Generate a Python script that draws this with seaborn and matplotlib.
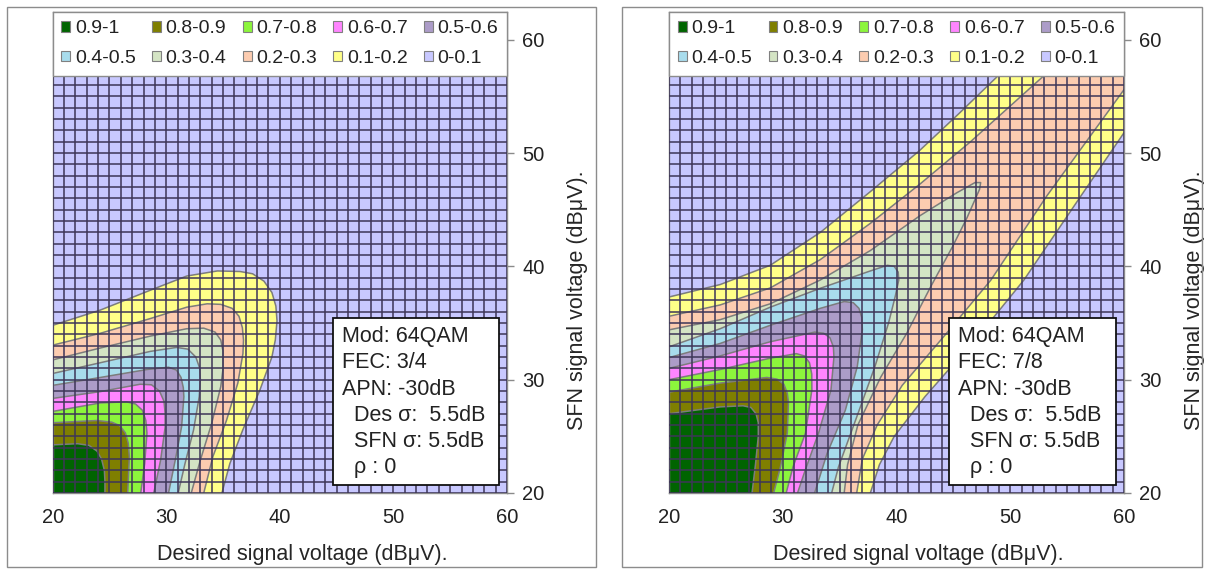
import numpy as np
import matplotlib
matplotlib.use("Agg")
import matplotlib.pyplot as plt
from matplotlib.patches import Patch, Rectangle
import seaborn as sns

# Probability bands (legend order) and their fill colours
band_labels = ["0.9-1", "0.8-0.9", "0.7-0.8", "0.6-0.7", "0.5-0.6",
               "0.4-0.5", "0.3-0.4", "0.2-0.3", "0.1-0.2", "0-0.1"]
band_colors = ["#006400", "#7F7F00", "#8CF53C", "#FF85FF", "#AC9CC8",
               "#A8DCEC", "#D4E4C4", "#FCCCB0", "#FFFF88", "#C8C8FF"]

# Contour levels 0.1 ... 0.9 (probability of reception)
levels = [0.1, 0.2, 0.3, 0.4, 0.5, 0.6, 0.7, 0.8, 0.9]

# ---- 64QAM, FEC 3/4: contour lines (desired dBuV, SFN dBuV), lower-left side is >= level
fec34_c10 = [(20, 34.8), (24.2, 36.15), (28.6, 37.9), (31.8, 39.15), (34.5, 39.6), (36.5, 39.55),
             (37.6, 39.35), (38.6, 38.7), (39.3, 37.7), (39.65, 36.5), (39.75, 35.2), (39.6, 33.5),
             (39.3, 32.0), (38.25, 29.1), (36.75, 25.6), (35.6, 22.6), (34.9, 20)]
fec34_c20 = [(20, 33.05), (24.2, 34.1), (28.6, 35.4), (31.8, 36.4), (33.6, 36.7), (34.8, 36.65),
             (35.8, 36.3), (36.4, 35.6), (36.7, 34.6), (36.8, 33.5), (36.75, 32.3), (36.3, 29.7),
             (35.3, 26.4), (34.1, 23.2), (33.3, 20)]
fec34_c30 = [(20, 31.75), (24.2, 32.8), (28.6, 33.85), (31.8, 34.5), (33.3, 34.55), (34.3, 34.2),
             (34.8, 33.5), (35.0, 32.5), (35.0, 31.0), (34.8, 29.4), (34.0, 26.15), (33.0, 22.9),
             (32.2, 20)]
fec34_c40 = [(20, 30.55), (24.2, 31.5), (28.6, 32.5), (30.9, 32.85), (31.9, 32.7), (32.6, 32.0),
             (32.95, 31.0), (33.0, 30.0), (32.9, 28.5), (32.4, 25.55), (31.65, 22.6), (31.05, 20)]
fec34_c50 = [(20, 29.5), (24.2, 30.2), (28.3, 30.9), (30.2, 31.1), (30.9, 30.85), (31.3, 30.2),
             (31.5, 29.3), (31.55, 28.5), (31.35, 25.85), (30.85, 23.2), (30.2, 20)]
fec34_c60 = [(20, 28.35), (24.2, 28.95), (27.7, 29.6), (28.7, 29.55), (29.4, 29.0), (29.8, 28.1),
             (29.9, 27.0), (29.9, 25.8), (29.5, 22.9), (28.9, 20)]
fec34_c70 = [(20, 27.2), (24.2, 27.95), (26.5, 28.05), (27.3, 27.85), (27.9, 27.3), (28.2, 26.4),
             (28.3, 25.3), (28.1, 22.6), (27.75, 20)]
fec34_c80 = [(20, 26.2), (23.9, 26.4), (25.2, 26.25), (25.9, 25.95), (26.4, 25.3), (26.65, 24.4),
             (26.75, 23.2), (26.6, 20)]
fec34_c90 = [(20, 24.25), (22.2, 24.35), (23.2, 24.2), (23.9, 23.7), (24.3, 23.0), (24.55, 22.0),
             (24.6, 21.0), (24.6, 20)]

# ---- 64QAM, FEC 7/8
fec78_c10 = [(20, 37.3), (24.5, 38.4), (28.9, 40.1), (33.3, 43.0), (37.7, 46.6), (42.0, 50.2),
             (45.5, 53.5), (48.9, 56.8), (55, 62.5), (57, 64.5), (75, 75), (64, 57.6),
             (60, 51.8), (56.2, 46.2), (51.2, 38.8), (47.4, 34.1), (42.5, 28.5), (39.8, 25.0),
             (38.5, 22.5), (37.7, 20)]
fec78_c20 = [(20, 35.6), (24.5, 36.6), (28.9, 38.1), (33.3, 40.6), (37.7, 43.8), (42.1, 47.3),
             (46.5, 51.0), (52.7, 56.6), (58, 61.5), (61, 64), (75, 75), (64, 61.1),
             (60, 55.6), (53.2, 46.2), (48.3, 38.8), (44.4, 34.1), (40.5, 29.5), (38.3, 26.0),
             (37.0, 23.0), (36.5, 20)]
fec78_c30 = [(20, 34.4), (24.5, 35.3), (28.9, 36.7), (33.3, 38.8), (37.7, 41.4), (42.1, 44.5),
             (45.3, 46.5), (46.9, 47.4), (47.4, 47.4), (47.3, 46.8), (46.2, 44.3), (44.9, 41.7),
             (43.0, 38.2), (40.9, 34.1), (38.6, 30.2), (36.6, 26.0), (35.7, 22.5), (35.4, 20)]
fec78_c40 = [(20, 32.9), (24.5, 34.5), (28.9, 36.4), (33.3, 38.07), (37.7, 39.6), (39.2, 40.1),
             (39.8, 40.0), (40.15, 39.5), (40.2, 38.8), (39.9, 37.4), (39.3, 35.0), (38.1, 31.15),
             (36.5, 26.7), (34.9, 22.3), (34.3, 20)]
fec78_c50 = [(20, 31.95), (24.5, 33.2), (28.9, 34.8), (33.3, 36.3), (35.4, 36.9), (36.2, 36.8),
             (36.7, 36.3), (36.95, 35.5), (37.0, 34.4), (36.55, 31.15), (35.5, 27.3), (33.9, 23.5),
             (32.8, 20)]
fec78_c60 = [(20, 31.0), (24.5, 32.1), (28.9, 33.35), (32.8, 34.2), (33.6, 34.1), (34.15, 33.7),
             (34.45, 32.9), (34.5, 32.0), (34.24, 29.1), (33.15, 25.3), (31.97, 22.0), (31.3, 20)]
fec78_c70 = [(20, 30.0), (24.5, 30.9), (28.9, 31.9), (31.2, 32.3), (31.9, 32.1), (32.35, 31.5),
             (32.55, 30.5), (32.56, 29.1), (32.0, 25.3), (30.9, 22.3), (30.3, 20)]
fec78_c80 = [(20, 28.9), (24.5, 29.7), (28.6, 30.2), (29.5, 30.05), (30.1, 29.6), (30.4, 28.8),
             (30.5, 28.0), (30.4, 25.3), (29.8, 22.3), (29.2, 20)]
fec78_c90 = [(20, 27.0), (24.5, 27.6), (26.5, 27.7), (27.2, 27.55), (27.65, 27.0), (27.85, 26.2),
             (27.85, 25.0), (27.6, 22.5), (27.3, 20)]

fec34_contours = [fec34_c10, fec34_c20, fec34_c30, fec34_c40, fec34_c50,
                  fec34_c60, fec34_c70, fec34_c80, fec34_c90]
fec78_contours = [fec78_c10, fec78_c20, fec78_c30, fec78_c40, fec78_c50,
                  fec78_c60, fec78_c70, fec78_c80, fec78_c90]

fec34_info = ["Mod: 64QAM", "FEC: 3/4", "APN: -30dB",
              "  Des \u03c3:  5.5dB", "  SFN \u03c3: 5.5dB", "  \u03c1 : 0"]
fec78_info = ["Mod: 64QAM", "FEC: 7/8", "APN: -30dB",
              "  Des \u03c3:  5.5dB", "  SFN \u03c3: 5.5dB", "  \u03c1 : 0"]

x_ticks = [20, 30, 40, 50, 60]
y_ticks = [20, 30, 40, 50, 60]
x_label = "Desired signal voltage (dB\u03bcV)."
y_label = "SFN signal voltage (dB\u03bcV)."

sns.set_theme(style="white")
plt.rcParams["font.family"] = ["Liberation Sans", "DejaVu Sans"]
plt.rcParams["text.color"] = "#222222"

W, H = 1206, 573
fig = plt.figure(figsize=(W / 100, H / 100), dpi=100)

GRID_C = "#3e3658"
LINE_C = "#7c7c7c"
AX_C = "#8a8a8a"


def draw_panel(ax, contours, info):
    ax.set_facecolor(band_colors[-1])
    for lev, pts in zip(levels, contours):
        color = band_colors[9 - int(round(lev * 10))]
        xs = [p[0] for p in pts]
        ys = [p[1] for p in pts]
        ax.fill(xs + [20], ys + [20], facecolor=color, edgecolor="none", zorder=1)
        sns.lineplot(x=xs, y=ys, sort=False, estimator=None, color=LINE_C,
                     lw=1.1, ax=ax, zorder=2, legend=False)

    ax.set_xlim(20, 60)
    ax.set_ylim(20, 62.5)
    ax.set_xticks(x_ticks)
    ax.set_yticks(y_ticks)
    ax.set_xticks(np.arange(20, 61, 1), minor=True)
    ax.set_yticks(np.arange(20, 63, 1), minor=True)
    ax.set_axisbelow(False)
    ax.grid(which="both", color=GRID_C, lw=1.3, alpha=0.85)
    ax.tick_params(which="minor", length=0)
    ax.tick_params(which="major", direction="out", length=5, width=1,
                   color=AX_C, labelsize=14.5, labelcolor="#222222", pad=6)
    ax.yaxis.tick_right()
    ax.yaxis.set_label_position("right")
    for s in ax.spines.values():
        s.set_color(AX_C)
        s.set_linewidth(1.0)

    ax.set_xlabel(x_label, fontsize=15.5)
    ax.set_ylabel(y_label, fontsize=15.5, rotation=90)
    ax.xaxis.set_label_coords(0.549, -0.106)
    ax.yaxis.set_label_coords(1.132, 0.40)

    # Legend: two rows, read left to right
    handles = [Patch(facecolor=c, edgecolor="#808080", lw=0.8) for c in band_colors]
    order = [0, 5, 1, 6, 2, 7, 3, 8, 4, 9]
    leg = ax.legend([handles[i] for i in order], [band_labels[i] for i in order],
                    ncol=5, loc="upper left", bbox_to_anchor=(0, 1, 1, 0.0),
                    mode="expand", borderaxespad=0, fontsize=14,
                    handlelength=0.45, handleheight=0.45, handletextpad=0.25,
                    labelspacing=0.65, borderpad=0.45, columnspacing=0.5,
                    frameon=True, fancybox=False, framealpha=1)
    leg.get_frame().set_edgecolor("#8c8c8c")
    leg.get_frame().set_linewidth(1.0)
    leg.set_zorder(6)

    # Parameter box
    ax.add_patch(Rectangle((0.616, 0.0166), 0.367, 0.3468, transform=ax.transAxes,
                           facecolor="white", edgecolor="#111111", lw=1.3, zorder=4))
    for i, line in enumerate(info):
        ax.text(0.636, 0.3246 - i * 0.0544, line, transform=ax.transAxes,
                fontsize=15.5, va="center", ha="left", zorder=5, color="#222222")


ax1 = fig.add_axes([52.7 / W, 80 / H, 454.3 / W, 481.5 / H])
ax2 = fig.add_axes([669 / W, 80 / H, 455 / W, 481.5 / H])
draw_panel(ax1, fec34_contours, fec34_info)
draw_panel(ax2, fec78_contours, fec78_info)

# Chart-area frames
for x0, x1 in [(7, 596), (622, 1202)]:
    fig.add_artist(Rectangle((x0 / W, 6 / H), (x1 - x0) / W, (566 - 6) / H,
                             transform=fig.transFigure, fill=False,
                             edgecolor="#8c8c8c", lw=1.0))

fig.savefig("out.png", dpi=100)
